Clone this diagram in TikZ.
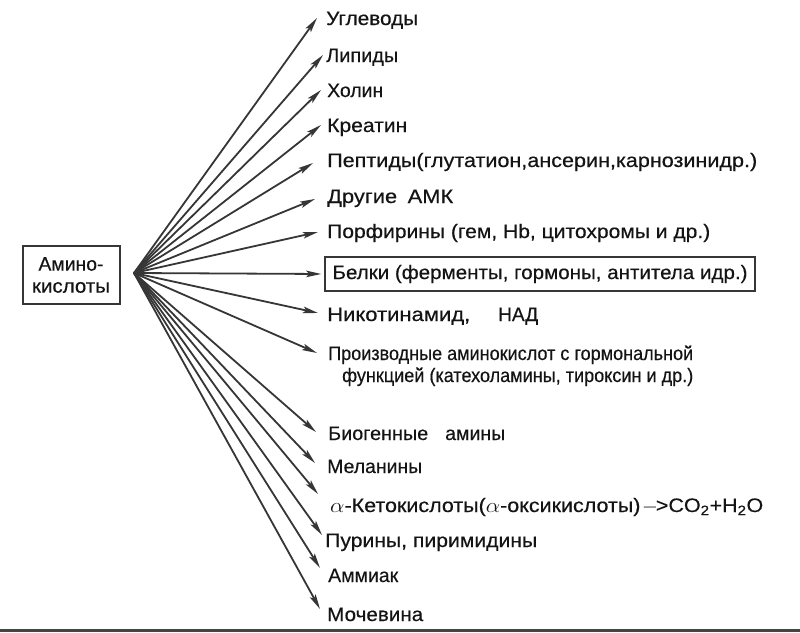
\documentclass[tikz,border=0pt]{standalone}
\usepackage{fontspec}
\setmainfont{Liberation Sans}[FakeBold=0.4]
\usepackage{graphicx}
\usetikzlibrary{arrows.meta}
\newcommand\fitw[2]{\resizebox{#1}{\height}{#2}}
\definecolor{ink}{HTML}{141414}
\definecolor{arrowc}{HTML}{363636}
\definecolor{rulec}{HTML}{444444}
\begin{document}
\begin{tikzpicture}[x=1pt,y=-1pt,
  lbl/.style={anchor=base west, inner sep=0pt, text=ink, font=\fontsize{19.5}{22}\selectfont},
  arr/.style={draw=arrowc, line width=1.8pt, -{Stealth[length=15pt,width=6.5pt,inset=3pt]}},
  srcbox/.style={draw=arrowc, line width=2pt, minimum width=97pt, minimum height=58pt, inner sep=0pt, align=center, text=ink, font=\fontsize{19.5}{22}\selectfont},
  hlbox/.style={draw=arrowc, line width=1.5pt, minimum width=430pt, minimum height=34pt, inner sep=0pt, text=ink, font=\fontsize{19.5}{22}\selectfont},
  ]
\useasboundingbox (0,0) rectangle (800,632);
\fill[white] (0,0) rectangle (800,632);

% source
\node[srcbox] (amino) at (71,275) {\fitw{65pt}{Амино-}\\\fitw{78pt}{кислоты}};
\coordinate (hub) at (134,273);

% targets
\node[lbl] (t1) at (326,25) {\fitw{92pt}{Углеводы}};
\node[lbl] (t2) at (326,62) {\fitw{72pt}{Липиды}};
\node[lbl] (t3) at (327,97) {\fitw{56pt}{Холин}};
\node[lbl] (t4) at (327,132) {\fitw{80pt}{Креатин}};
\node[lbl] (t5) at (327,167) {\fitw{430pt}{Пептиды(глутатион,ансерин,карнозинидр.)}};
\node[lbl] (t6) at (327,203) {\fitw{126pt}{Другие\hspace{4pt} АМК}};
\node[lbl] (t7) at (327,238) {\fitw{383pt}{Порфирины (гем, Hb, цитохромы и др.)}};
\node[hlbox] (t8) at (540,274) {\fitw{415pt}{Белки (ферменты, гормоны, антитела идр.)}};
\node[lbl] (t9) at (327,321) {\fitw{143pt}{Никотинамид,}\hspace{28pt}\fitw{40pt}{НАД}};
\node[lbl] (t10) at (328,360) {\fitw{365pt}{Производные аминокислот с гормональной}};
\node[lbl] (t10b) at (342,382) {\fitw{351pt}{функцией (катехоламины, тироксин и др.)}};
\node[lbl] (t11) at (328,440) {\fitw{100pt}{Биогенные}\hspace{17pt}\fitw{60pt}{амины}};
\node[lbl] (t12) at (327,473) {\fitw{95pt}{Меланины}};
\node[lbl] (t13) at (330,512) {\fitw{433pt}{$\alpha$-Кетокислоты($\alpha$-оксикислоты)\,\textcolor{gray}{--}>CO\textsubscript{2}+H\textsubscript{2}O}};
\node[lbl] (t14) at (325,547) {\fitw{212pt}{Пурины, пиримидины}};
\node[lbl] (t15) at (328,582) {\fitw{70pt}{Аммиак}};
\node[lbl] (t16) at (327,621) {\fitw{96pt}{Мочевина}};

% arrow tips
\coordinate (a1) at (317,18);
\coordinate (a2) at (323,55);
\coordinate (a3) at (321,90);
\coordinate (a4) at (321,125);
\coordinate (a5) at (313,163);
\coordinate (a6) at (315,199);
\coordinate (a7) at (318,232);
\coordinate (a9) at (318,313);
\coordinate (a10) at (317,353);
\coordinate (a11) at (316,432);
\coordinate (a12) at (315,463);
\coordinate (a13) at (318,494);
\coordinate (a14) at (322,535);
\coordinate (a15) at (320,568);
\coordinate (a16) at (320,609);

\foreach \i in {1,2,3,4,5,6,7,9,10,11,12,13,14,15,16}
  \draw[arr] (hub) -- (a\i);
\draw[arr, shorten >=3pt] (hub) -- (t8.west);

% bottom rule
\draw[rulec, line width=3pt] (0,630) -- (800,630);
\end{tikzpicture}
\end{document}
